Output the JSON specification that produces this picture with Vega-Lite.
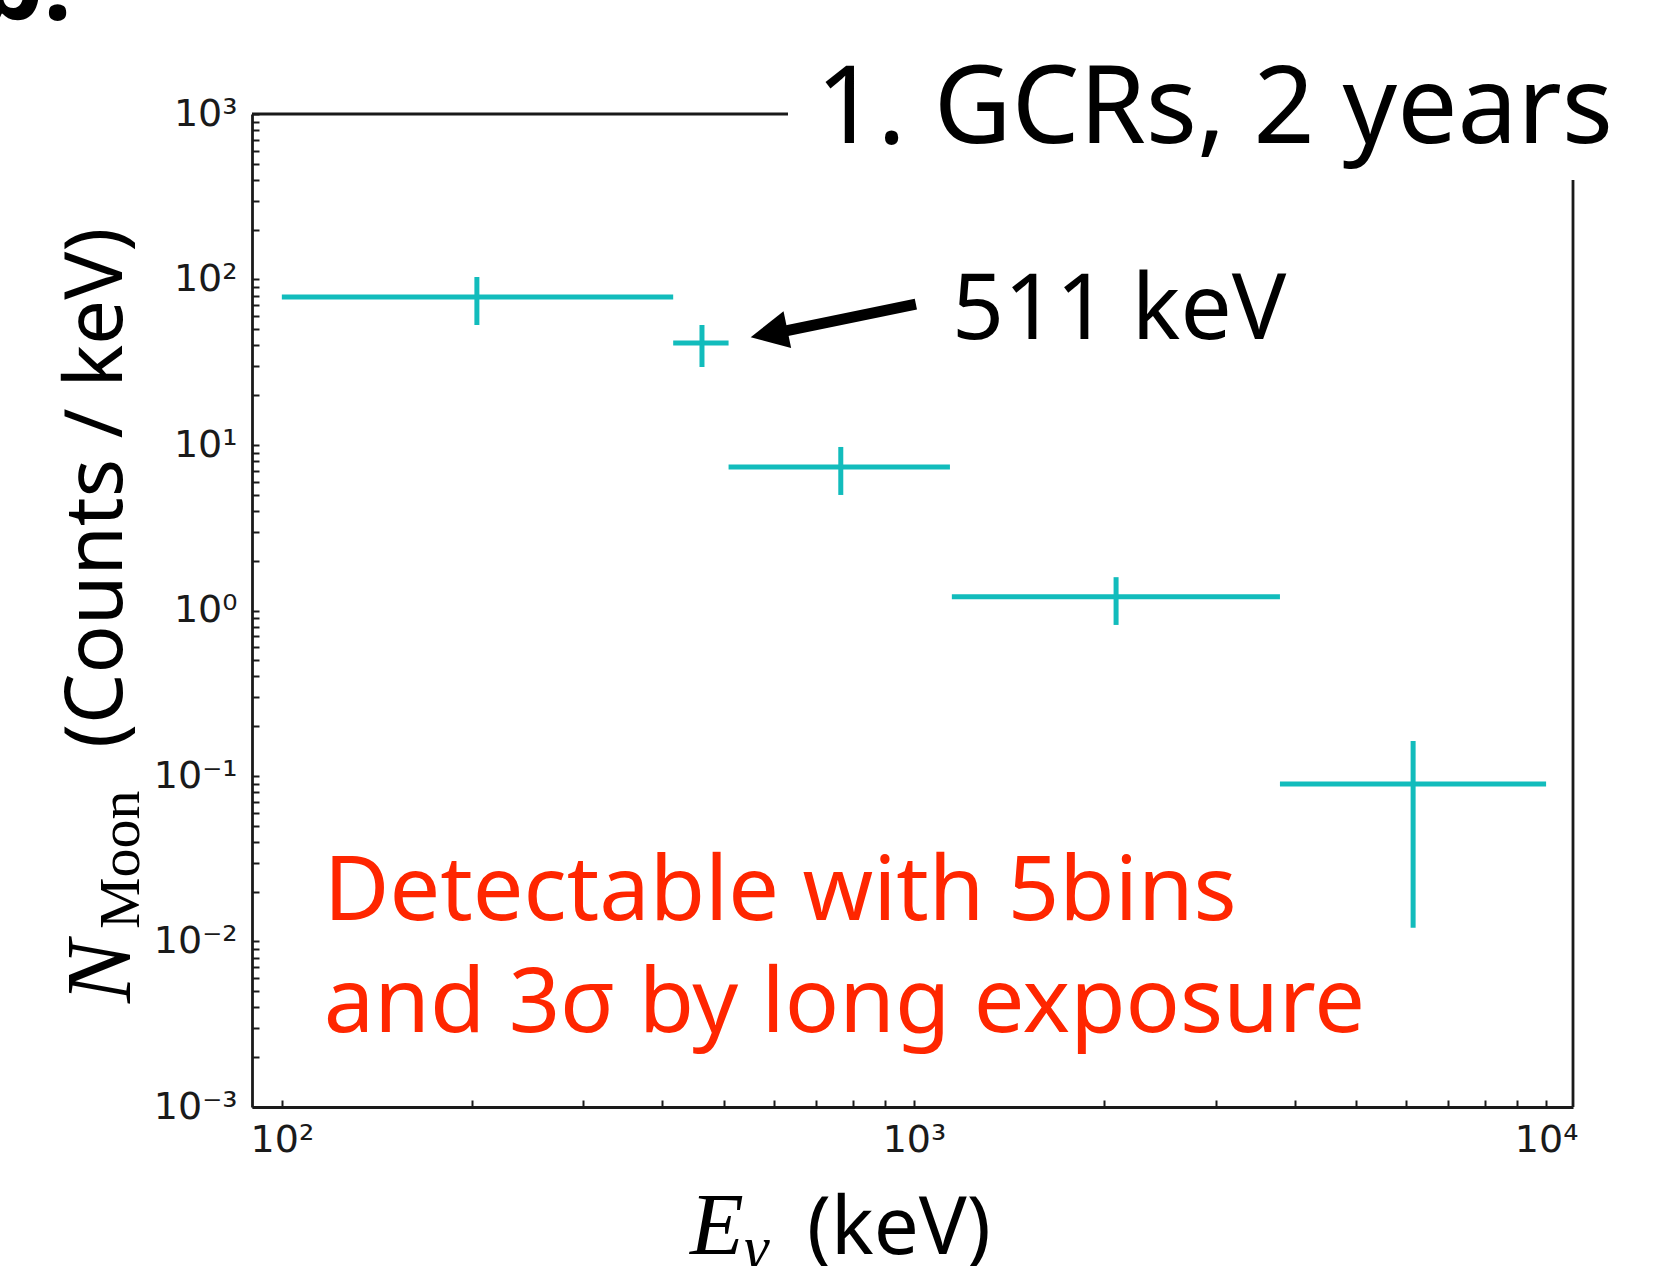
{
  "$schema": "https://vega.github.io/schema/vega-lite/v6.json",
  "width": 1321,
  "height": 993,
  "autosize": {"type": "none"},
  "padding": {"left": 252, "top": 114, "right": 86, "bottom": 159},
  "background": "white",
  "config": {"view": {"stroke": null}},
  "datasets": {
    "bins": [
      {"e_lo": 100, "e_hi": 416, "e_c": 203.5, "n": 78.4, "n_lo": 53.1, "n_hi": 103.5},
      {"e_lo": 416, "e_hi": 509, "e_c": 462, "n": 41.3, "n_lo": 29.6, "n_hi": 53.1},
      {"e_lo": 509, "e_hi": 1140, "e_c": 766, "n": 7.36, "n_lo": 4.99, "n_hi": 9.73},
      {"e_lo": 1148, "e_hi": 3793, "e_c": 2088, "n": 1.21, "n_lo": 0.818, "n_hi": 1.59},
      {"e_lo": 3793, "e_hi": 10000, "e_c": 6161, "n": 0.0895, "n_lo": 0.0121, "n_hi": 0.1626}
    ]
  },
  "layer": [
    {
      "data": {"name": "bins"},
      "mark": {"type": "rule", "color": "#12bcbc", "strokeWidth": 5},
      "encoding": {
        "x": {
          "field": "e_lo", "type": "quantitative", "title": null,
          "scale": {"type": "log", "domain": [89.7, 11030], "nice": false},
          "axis": {
            "title": null,
            "values": [100, 200, 300, 400, 500, 600, 700, 800, 900, 1000, 2000, 3000, 4000, 5000, 6000, 7000, 8000, 9000, 10000],
            "labelExpr": "abs(log(datum.value)/LN10 - round(log(datum.value)/LN10)) < 0.001 ? ['10⁻³','10⁻²','10⁻¹','10⁰','10¹','10²','10³','10⁴'][round(log(datum.value)/LN10)+3] : ''",
            "labelFont": "DejaVu Sans", "labelFontSize": 38, "labelColor": "#1a1a1a",
            "labelPadding": 21, "labelOverlap": false, "labelFlush": false,
            "labelBaseline": "top", "labelAlign": "center",
            "ticks": true, "tickSize": -7, "tickColor": "#1a1a1a", "tickWidth": 2,
            "domain": true, "domainColor": "#1a1a1a", "domainWidth": 2.8, "grid": false,
            "encode": {"ticks": {"y2": {"condition": {"test": "abs(log(datum.value)/LN10 - round(log(datum.value)/LN10)) < 0.001", "value": -12}, "value": -7}}}
          }
        },
        "x2": {"field": "e_hi", "title": null},
        "y": {
          "field": "n", "type": "quantitative", "title": null,
          "scale": {"type": "log", "domain": [0.001, 1000], "nice": false},
          "axis": {
            "title": null,
            "values": [0.001, 0.002, 0.003, 0.004, 0.005, 0.006, 0.007, 0.008, 0.009, 0.01, 0.02, 0.03, 0.04, 0.05, 0.06, 0.07, 0.08, 0.09, 0.1, 0.2, 0.3, 0.4, 0.5, 0.6, 0.7, 0.8, 0.9, 1, 2, 3, 4, 5, 6, 7, 8, 9, 10, 20, 30, 40, 50, 60, 70, 80, 90, 100, 200, 300, 400, 500, 600, 700, 800, 900, 1000],
            "labelExpr": "abs(log(datum.value)/LN10 - round(log(datum.value)/LN10)) < 0.001 ? ['10⁻³','10⁻²','10⁻¹','10⁰','10¹','10²','10³','10⁴'][round(log(datum.value)/LN10)+3] : ''",
            "labelFont": "DejaVu Sans", "labelFontSize": 38, "labelColor": "#1a1a1a",
            "labelPadding": 22, "labelOverlap": false, "labelFlush": false,
            "labelBaseline": "middle", "labelAlign": "right",
            "ticks": true, "tickSize": -7, "tickColor": "#1a1a1a", "tickWidth": 2,
            "domain": true, "domainColor": "#1a1a1a", "domainWidth": 2.8, "grid": false,
            "encode": {"ticks": {"x2": {"value": {"expr": "abs(log(datum.value)/LN10 - round(log(datum.value)/LN10)) < 0.001 ? 12 : 7"}}}}
          }
        }
      }
    },
    {
      "data": {"name": "bins"},
      "mark": {"type": "rule", "color": "#12bcbc", "strokeWidth": 5},
      "encoding": {
        "x": {"field": "e_c", "type": "quantitative", "title": null, "scale": {"type": "log", "domain": [89.7, 11030], "nice": false}},
        "y": {"field": "n_lo", "type": "quantitative", "title": null, "scale": {"type": "log", "domain": [0.001, 1000], "nice": false}},
        "y2": {"field": "n_hi", "title": null}
      }
    },
    {
      "data": {"values": [{"x": 89.7, "x2": 632, "y": 1000}]},
      "mark": {"type": "rule", "color": "#1a1a1a", "strokeWidth": 2.8},
      "encoding": {
        "x": {"field": "x", "type": "quantitative", "title": null, "scale": {"type": "log", "domain": [89.7, 11030], "nice": false}},
        "x2": {"field": "x2", "title": null},
        "y": {"field": "y", "type": "quantitative", "title": null, "scale": {"type": "log", "domain": [0.001, 1000], "nice": false}}
      }
    },
    {
      "data": {"values": [{"x": 11030, "y": 0.001, "y2": 399}]},
      "mark": {"type": "rule", "color": "#1a1a1a", "strokeWidth": 2.8},
      "encoding": {
        "x": {"field": "x", "type": "quantitative", "title": null, "scale": {"type": "log", "domain": [89.7, 11030], "nice": false}},
        "y": {"field": "y", "type": "quantitative", "title": null, "scale": {"type": "log", "domain": [0.001, 1000], "nice": false}},
        "y2": {"field": "y2", "title": null}
      }
    },
    {
      "data": {"values": [{"x": 1007, "y": 71.1, "x2": 602.6, "y2": 47.4}]},
      "mark": {"type": "rule", "color": "black", "strokeWidth": 11},
      "encoding": {
        "x": {"field": "x", "type": "quantitative", "title": null, "scale": {"type": "log", "domain": [89.7, 11030], "nice": false}},
        "x2": {"field": "x2", "title": null},
        "y": {"field": "y", "type": "quantitative", "title": null, "scale": {"type": "log", "domain": [0.001, 1000], "nice": false}},
        "y2": {"field": "y2", "title": null}
      }
    },
    {
      "data": {"values": [{"x": 589.8, "y": 47.24}]},
      "mark": {"type": "point", "shape": "M0,-1L-1,1L1,1Z", "size": 1400, "angle": 258.3, "filled": true, "color": "black", "opacity": 1, "strokeWidth": 0},
      "encoding": {
        "x": {"field": "x", "type": "quantitative", "title": null, "scale": {"type": "log", "domain": [89.7, 11030], "nice": false}},
        "y": {"field": "y", "type": "quantitative", "title": null, "scale": {"type": "log", "domain": [0.001, 1000], "nice": false}}
      }
    },
    {
      "data": {"values": [{"x": 700, "y": 668.2, "label": "1. GCRs, 2 years"}]},
      "mark": {"type": "text", "font": "Noto Sans", "fontSize": 107, "align": "left", "baseline": "alphabetic", "color": "black"},
      "encoding": {
        "x": {"field": "x", "type": "quantitative", "title": null, "scale": {"type": "log", "domain": [89.7, 11030], "nice": false}},
        "y": {"field": "y", "type": "quantitative", "title": null, "scale": {"type": "log", "domain": [0.001, 1000], "nice": false}},
        "text": {"field": "label"}
      }
    },
    {
      "data": {"values": [{"x": 1148.5, "y": 43.7, "label": "511 keV"}]},
      "mark": {"type": "text", "font": "Noto Sans", "fontSize": 91, "align": "left", "baseline": "alphabetic", "color": "black"},
      "encoding": {
        "x": {"field": "x", "type": "quantitative", "title": null, "scale": {"type": "log", "domain": [89.7, 11030], "nice": false}},
        "y": {"field": "y", "type": "quantitative", "title": null, "scale": {"type": "log", "domain": [0.001, 1000], "nice": false}},
        "text": {"field": "label"}
      }
    },
    {
      "data": {"values": [{"x": 116.5, "y": 0.01349, "label": "Detectable with 5bins\nand 3σ by long exposure"}]},
      "mark": {"type": "text", "font": "Noto Sans", "fontSize": 90, "align": "left", "baseline": "alphabetic", "color": "#ff2600", "lineBreak": "\n", "lineHeight": 112},
      "encoding": {
        "x": {"field": "x", "type": "quantitative", "title": null, "scale": {"type": "log", "domain": [89.7, 11030], "nice": false}},
        "y": {"field": "y", "type": "quantitative", "title": null, "scale": {"type": "log", "domain": [0.001, 1000], "nice": false}},
        "text": {"field": "label"}
      }
    },
    {
      "data": {"values": [{"x": 46.5, "y": 3700, "label": "b."}]},
      "mark": {"type": "text", "font": "Noto Sans", "fontSize": 100, "fontWeight": "bold", "align": "right", "baseline": "alphabetic", "color": "black"},
      "encoding": {
        "x": {"field": "x", "type": "quantitative", "title": null, "scale": {"type": "log", "domain": [89.7, 11030], "nice": false}},
        "y": {"field": "y", "type": "quantitative", "title": null, "scale": {"type": "log", "domain": [0.001, 1000], "nice": false}},
        "text": {"field": "label"}
      }
    },
    {
      "data": {"values": [{"x": 442.2, "y": 0.0001294, "label": "E"}]},
      "mark": {"type": "text", "font": "Liberation Serif", "fontStyle": "italic", "fontSize": 88, "align": "left", "baseline": "alphabetic", "color": "black"},
      "encoding": {
        "x": {"field": "x", "type": "quantitative", "title": null, "scale": {"type": "log", "domain": [89.7, 11030], "nice": false}},
        "y": {"field": "y", "type": "quantitative", "title": null, "scale": {"type": "log", "domain": [0.001, 1000], "nice": false}},
        "text": {"field": "label"}
      }
    },
    {
      "data": {"values": [{"x": 538.3, "y": 0.0001065, "label": "γ"}]},
      "mark": {"type": "text", "font": "Liberation Serif", "fontStyle": "italic", "fontSize": 62, "align": "left", "baseline": "alphabetic", "color": "black"},
      "encoding": {
        "x": {"field": "x", "type": "quantitative", "title": null, "scale": {"type": "log", "domain": [89.7, 11030], "nice": false}},
        "y": {"field": "y", "type": "quantitative", "title": null, "scale": {"type": "log", "domain": [0.001, 1000], "nice": false}},
        "text": {"field": "label"}
      }
    },
    {
      "data": {"values": [{"x": 677.1, "y": 0.0001294, "label": "(keV)"}]},
      "mark": {"type": "text", "font": "Noto Sans", "fontSize": 80, "align": "left", "baseline": "alphabetic", "color": "black"},
      "encoding": {
        "x": {"field": "x", "type": "quantitative", "title": null, "scale": {"type": "log", "domain": [89.7, 11030], "nice": false}},
        "y": {"field": "y", "type": "quantitative", "title": null, "scale": {"type": "log", "domain": [0.001, 1000], "nice": false}},
        "text": {"field": "label"}
      }
    },
    {
      "data": {"values": [{"x": 57.5, "y": 0.004251, "label": "N"}]},
      "mark": {"type": "text", "font": "Liberation Serif", "fontStyle": "italic", "fontSize": 94, "align": "left", "baseline": "alphabetic", "color": "black", "angle": 270},
      "encoding": {
        "x": {"field": "x", "type": "quantitative", "title": null, "scale": {"type": "log", "domain": [89.7, 11030], "nice": false}},
        "y": {"field": "y", "type": "quantitative", "title": null, "scale": {"type": "log", "domain": [0.001, 1000], "nice": false}},
        "text": {"field": "label"}
      }
    },
    {
      "data": {"values": [{"x": 59.5, "y": 0.0119, "label": "Moon"}]},
      "mark": {"type": "text", "font": "Liberation Serif", "fontSize": 58, "align": "left", "baseline": "alphabetic", "color": "black", "angle": 270},
      "encoding": {
        "x": {"field": "x", "type": "quantitative", "title": null, "scale": {"type": "log", "domain": [89.7, 11030], "nice": false}},
        "y": {"field": "y", "type": "quantitative", "title": null, "scale": {"type": "log", "domain": [0.001, 1000], "nice": false}},
        "text": {"field": "label"}
      }
    },
    {
      "data": {"values": [{"x": 55.8, "y": 0.1476, "label": "(Counts / keV)"}]},
      "mark": {"type": "text", "font": "Noto Sans", "fontSize": 80, "align": "left", "baseline": "alphabetic", "color": "black", "angle": 270},
      "encoding": {
        "x": {"field": "x", "type": "quantitative", "title": null, "scale": {"type": "log", "domain": [89.7, 11030], "nice": false}},
        "y": {"field": "y", "type": "quantitative", "title": null, "scale": {"type": "log", "domain": [0.001, 1000], "nice": false}},
        "text": {"field": "label"}
      }
    }
  ]
}
